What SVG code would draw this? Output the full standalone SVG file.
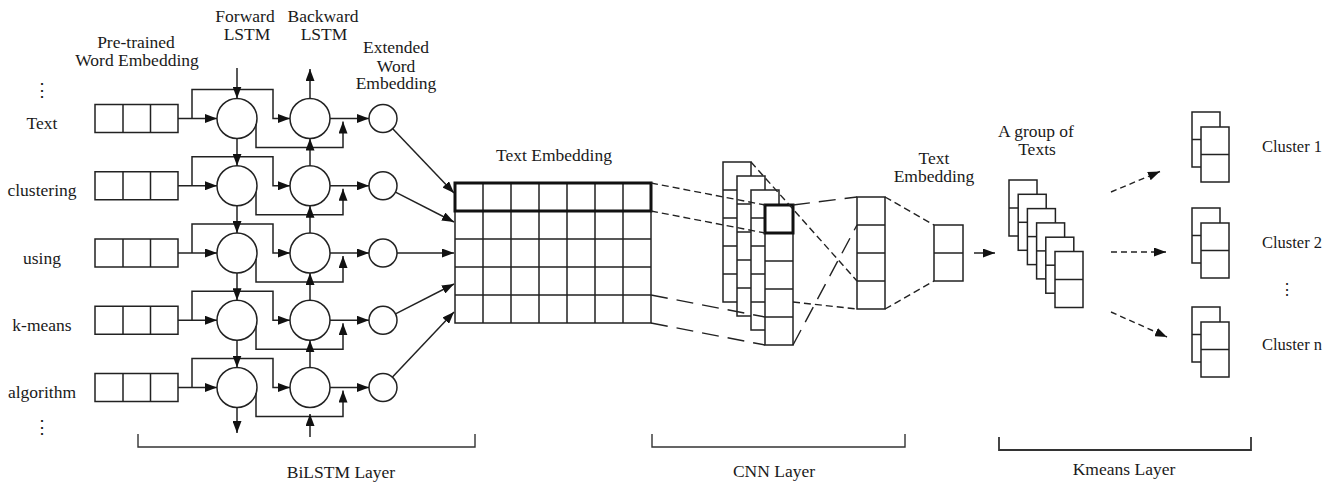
<svg xmlns="http://www.w3.org/2000/svg" width="1341" height="483" viewBox="0 0 1341 483">
<style>
text{font-family:"Liberation Serif","DejaVu Serif",serif;font-size:17.5px;fill:#1a1a1a}
.m{text-anchor:middle}
.box{fill:#fff;stroke:#222;stroke-width:1.5}
.thick{fill:none;stroke:#111;stroke-width:3}
.ln{fill:none;stroke:#222;stroke-width:1.5}
.c{fill:#fff;stroke:#222;stroke-width:1.5}
.a{fill:none;stroke:#222;stroke-width:1.5;marker-end:url(#ah)}
.ds{fill:none;stroke:#222;stroke-width:1.4;stroke-dasharray:7 4}
.dl{fill:none;stroke:#222;stroke-width:1.4;stroke-dasharray:17 9}
.da{fill:none;stroke:#222;stroke-width:1.4;stroke-dasharray:6 4;marker-end:url(#ah)}
.br{fill:none;stroke:#333;stroke-width:1.4}
.cl{font-size:16.5px}
</style>
<defs>
<marker id="ah" viewBox="0 0 12 9" refX="12" refY="4.5" markerWidth="12" markerHeight="9" markerUnits="userSpaceOnUse" orient="auto">
<path d="M0,0 L12,4.5 L0,9 z" fill="#111"/>
</marker>
</defs>

<g id="top-labels">
<text class="m" x="136" y="48">Pre-trained</text>
<text class="m" x="137" y="66">Word Embedding</text>
<text class="m" x="245" y="22">Forward</text>
<text class="m" x="247" y="40">LSTM</text>
<text class="m" x="323" y="22">Backward</text>
<text class="m" x="324" y="40">LSTM</text>
<text class="m" x="396" y="53">Extended</text>
<text class="m" x="396" y="71.5">Word</text>
<text class="m" x="396" y="89">Embedding</text>
<text class="m" x="42" y="96">⋮</text>
<text class="m" x="42" y="433">⋮</text>
</g>

<g id="row-0">
<text class="m" x="42" y="129">Text</text>
<rect class="box" x="95" y="104.5" width="83" height="28"/>
<path class="ln" d="M123,104.5V132.5M150.5,104.5V132.5"/>
<circle class="c" cx="237" cy="118.5" r="20"/>
<circle class="c" cx="310" cy="118.5" r="20"/>
<circle class="c" cx="383" cy="118.5" r="14"/>
</g>
<g id="row-1">
<text class="m" x="42" y="196.25">clustering</text>
<rect class="box" x="95" y="171.75" width="83" height="28"/>
<path class="ln" d="M123,171.75V199.75M150.5,171.75V199.75"/>
<circle class="c" cx="237" cy="185.75" r="20"/>
<circle class="c" cx="310" cy="185.75" r="20"/>
<circle class="c" cx="383" cy="185.75" r="14"/>
</g>
<g id="row-2">
<text class="m" x="42" y="263.5">using</text>
<rect class="box" x="95" y="239" width="83" height="28"/>
<path class="ln" d="M123,239V267M150.5,239V267"/>
<circle class="c" cx="237" cy="253" r="20"/>
<circle class="c" cx="310" cy="253" r="20"/>
<circle class="c" cx="383" cy="253" r="14"/>
</g>
<g id="row-3">
<text class="m" x="42" y="330.75">k-means</text>
<rect class="box" x="95" y="306.25" width="83" height="28"/>
<path class="ln" d="M123,306.25V334.25M150.5,306.25V334.25"/>
<circle class="c" cx="237" cy="320.25" r="20"/>
<circle class="c" cx="310" cy="320.25" r="20"/>
<circle class="c" cx="383" cy="320.25" r="14"/>
</g>
<g id="row-4">
<text class="m" x="42" y="398">algorithm</text>
<rect class="box" x="95" y="373.5" width="83" height="28"/>
<path class="ln" d="M123,373.5V401.5M150.5,373.5V401.5"/>
<circle class="c" cx="237" cy="387.5" r="20"/>
<circle class="c" cx="310" cy="387.5" r="20"/>
<circle class="c" cx="383" cy="387.5" r="14"/>
</g>

<g id="text-embedding-matrix">
<text class="m" x="554" y="161">Text Embedding</text>
<rect class="box" x="455" y="183" width="196" height="140"/>
<path class="ln" d="M483,183V323M511,183V323M539,183V323M567,183V323M595,183V323M623,183V323M455,211H651M455,239H651M455,267H651M455,295H651"/>
<rect class="thick" x="455" y="183" width="196" height="28"/>
</g>

<g id="cnn-feature-maps">
<rect class="box" x="723" y="162" width="28" height="140"/>
<path class="ln" d="M723,190H751M723,218H751M723,246H751M723,274H751"/>
<rect class="box" x="737" y="176" width="28" height="140"/>
<path class="ln" d="M737,204H765M737,232H765M737,260H765M737,288H765"/>
<rect class="box" x="751" y="190" width="28" height="140"/>
<path class="ln" d="M751,218H779M751,246H779M751,274H779M751,302H779"/>
<rect class="box" x="765" y="205" width="28" height="140"/>
<path class="ln" d="M765,233H793M765,261H793M765,289H793M765,317H793"/>
<rect class="thick" x="765" y="205" width="28" height="28"/>
</g>

<g id="pooled-column">
<rect class="box" x="857" y="197" width="28" height="112"/>
<path class="ln" d="M857,225H885M857,253H885M857,281H885"/>
</g>

<g id="text-embedding-vector">
<text class="m" x="934" y="164">Text</text>
<text class="m" x="934" y="182">Embedding</text>
<rect class="box" x="934" y="225" width="29" height="56"/>
<path class="ln" d="M934,253H963"/>
</g>

<g id="group-of-texts">
<text class="m" x="1036" y="136.5">A group of</text>
<text class="m" x="1037" y="155">Texts</text>
<rect class="box" x="1009" y="180" width="28" height="56"/><path class="ln" d="M1009,208H1037"/>
<rect class="box" x="1018.2" y="194.3" width="28" height="56"/><path class="ln" d="M1018.2,222.3H1046.2"/>
<rect class="box" x="1027.4" y="208.6" width="28" height="56"/><path class="ln" d="M1027.4,236.6H1055.4"/>
<rect class="box" x="1036.6" y="222.9" width="28" height="56"/><path class="ln" d="M1036.6,250.9H1064.6"/>
<rect class="box" x="1045.8" y="237.2" width="28" height="56"/><path class="ln" d="M1045.8,265.2H1073.8"/>
<rect class="box" x="1055" y="251.5" width="28" height="56"/><path class="ln" d="M1055,279.5H1083"/>
</g>

<g id="cluster-1">
<rect class="box" x="1192" y="112" width="28" height="55"/><path class="ln" d="M1192,139.5H1220"/>
<rect class="box" x="1201" y="127" width="28" height="55"/><path class="ln" d="M1201,154.5H1229"/>
<text class="cl" x="1262" y="152">Cluster 1</text>
</g>
<g id="cluster-2">
<rect class="box" x="1192" y="208" width="28" height="55"/><path class="ln" d="M1192,235.5H1220"/>
<rect class="box" x="1201" y="223" width="28" height="55"/><path class="ln" d="M1201,250.5H1229"/>
<text class="cl" x="1262" y="248">Cluster 2</text>
</g>
<text class="m" x="1287" y="295" style="font-size:16px">⋮</text>
<g id="cluster-n">
<rect class="box" x="1192" y="307" width="28" height="55"/><path class="ln" d="M1192,334.5H1220"/>
<rect class="box" x="1201" y="322" width="28" height="55"/><path class="ln" d="M1201,349.5H1229"/>
<text class="cl" x="1262" y="350">Cluster n</text>
</g>

<g id="layer-labels">
<polyline class="br" points="138,434 138,447 475,447 475,434"/>
<text class="m" x="341" y="478">BiLSTM Layer</text>
<polyline class="br" points="652,434 652,447 905,447 905,434"/>
<text class="m" x="774" y="477">CNN Layer</text>
<polyline class="br" points="999,437 999,450 1251,450 1251,437" style="stroke-width:1.8"/>
<text class="m" x="1124" y="475">Kmeans Layer</text>
</g>

<g id="connectors">
<!-- row 0 -->
<line class="a" x1="178" y1="118.5" x2="217" y2="118.5"/>
<polyline class="a" points="192,118.5 192,89.5 273,89.5 273,118.5 290,118.5"/>
<polyline class="a" points="256,124.5 256,147.5 343,147.5 343,121.5"/>
<line class="a" x1="330" y1="118.5" x2="369" y2="118.5"/>
<line class="a" x1="237" y1="68" x2="237" y2="98.5"/>
<line class="a" x1="310" y1="98.5" x2="310" y2="69"/>
<!-- row 1 -->
<line class="a" x1="178" y1="185.75" x2="217" y2="185.75"/>
<polyline class="a" points="192,185.75 192,156.75 273,156.75 273,185.75 290,185.75"/>
<polyline class="a" points="256,191.75 256,214.75 343,214.75 343,188.75"/>
<line class="a" x1="330" y1="185.75" x2="369" y2="185.75"/>
<line class="a" x1="237" y1="138.5" x2="237" y2="165.75"/>
<line class="a" x1="310" y1="165.75" x2="310" y2="138.5"/>
<!-- row 2 -->
<line class="a" x1="178" y1="253" x2="217" y2="253"/>
<polyline class="a" points="192,253 192,224 273,224 273,253 290,253"/>
<polyline class="a" points="256,259 256,282 343,282 343,256"/>
<line class="a" x1="330" y1="253" x2="369" y2="253"/>
<line class="a" x1="237" y1="205.75" x2="237" y2="233"/>
<line class="a" x1="310" y1="233" x2="310" y2="205.75"/>
<!-- row 3 -->
<line class="a" x1="178" y1="320.25" x2="217" y2="320.25"/>
<polyline class="a" points="192,320.25 192,291.25 273,291.25 273,320.25 290,320.25"/>
<polyline class="a" points="256,326.25 256,349.25 343,349.25 343,323.25"/>
<line class="a" x1="330" y1="320.25" x2="369" y2="320.25"/>
<line class="a" x1="237" y1="273" x2="237" y2="300.25"/>
<line class="a" x1="310" y1="300.25" x2="310" y2="273"/>
<!-- row 4 -->
<line class="a" x1="178" y1="387.5" x2="217" y2="387.5"/>
<polyline class="a" points="192,387.5 192,358.5 273,358.5 273,387.5 290,387.5"/>
<polyline class="a" points="256,393.5 256,416.5 343,416.5 343,390.5"/>
<line class="a" x1="330" y1="387.5" x2="369" y2="387.5"/>
<line class="a" x1="237" y1="340.25" x2="237" y2="367.5"/>
<line class="a" x1="310" y1="367.5" x2="310" y2="340.25"/>
<line class="a" x1="237" y1="407.5" x2="237" y2="433"/>
<line class="a" x1="310" y1="437" x2="310" y2="414"/>
<!-- extended word embedding to matrix -->
<line class="a" x1="392.5" y1="128.5" x2="454" y2="193"/>
<line class="a" x1="395.5" y1="192.2" x2="454" y2="222"/>
<line class="a" x1="397" y1="253" x2="454" y2="253"/>
<line class="a" x1="395.5" y1="313.8" x2="454" y2="284"/>
<line class="a" x1="392.5" y1="377" x2="454" y2="312"/>
<!-- matrix to CNN -->
<line class="ds" x1="651" y1="183" x2="765" y2="205"/>
<line class="ds" x1="651" y1="211" x2="765" y2="233"/>
<line class="dl" x1="651" y1="295" x2="765" y2="317"/>
<line class="dl" x1="651" y1="323" x2="765" y2="345"/>
<!-- CNN to pooled column -->
<line class="ds" x1="751" y1="162" x2="857" y2="281"/>
<line class="dl" x1="793" y1="205" x2="857" y2="197"/>
<line class="dl" x1="793" y1="345" x2="857" y2="225"/>
<line class="ds" x1="793" y1="302" x2="857" y2="309"/>
<!-- column to vector -->
<line class="ds" x1="885" y1="197" x2="934" y2="225"/>
<line class="ds" x1="885" y1="309" x2="934" y2="281"/>
<line class="a" x1="974" y1="253" x2="995" y2="253"/>
<!-- to clusters -->
<line class="da" x1="1111" y1="192" x2="1160" y2="171.5"/>
<line class="da" x1="1111" y1="252" x2="1166" y2="252"/>
<line class="da" x1="1111" y1="312" x2="1167" y2="337"/>
</g>
</svg>
